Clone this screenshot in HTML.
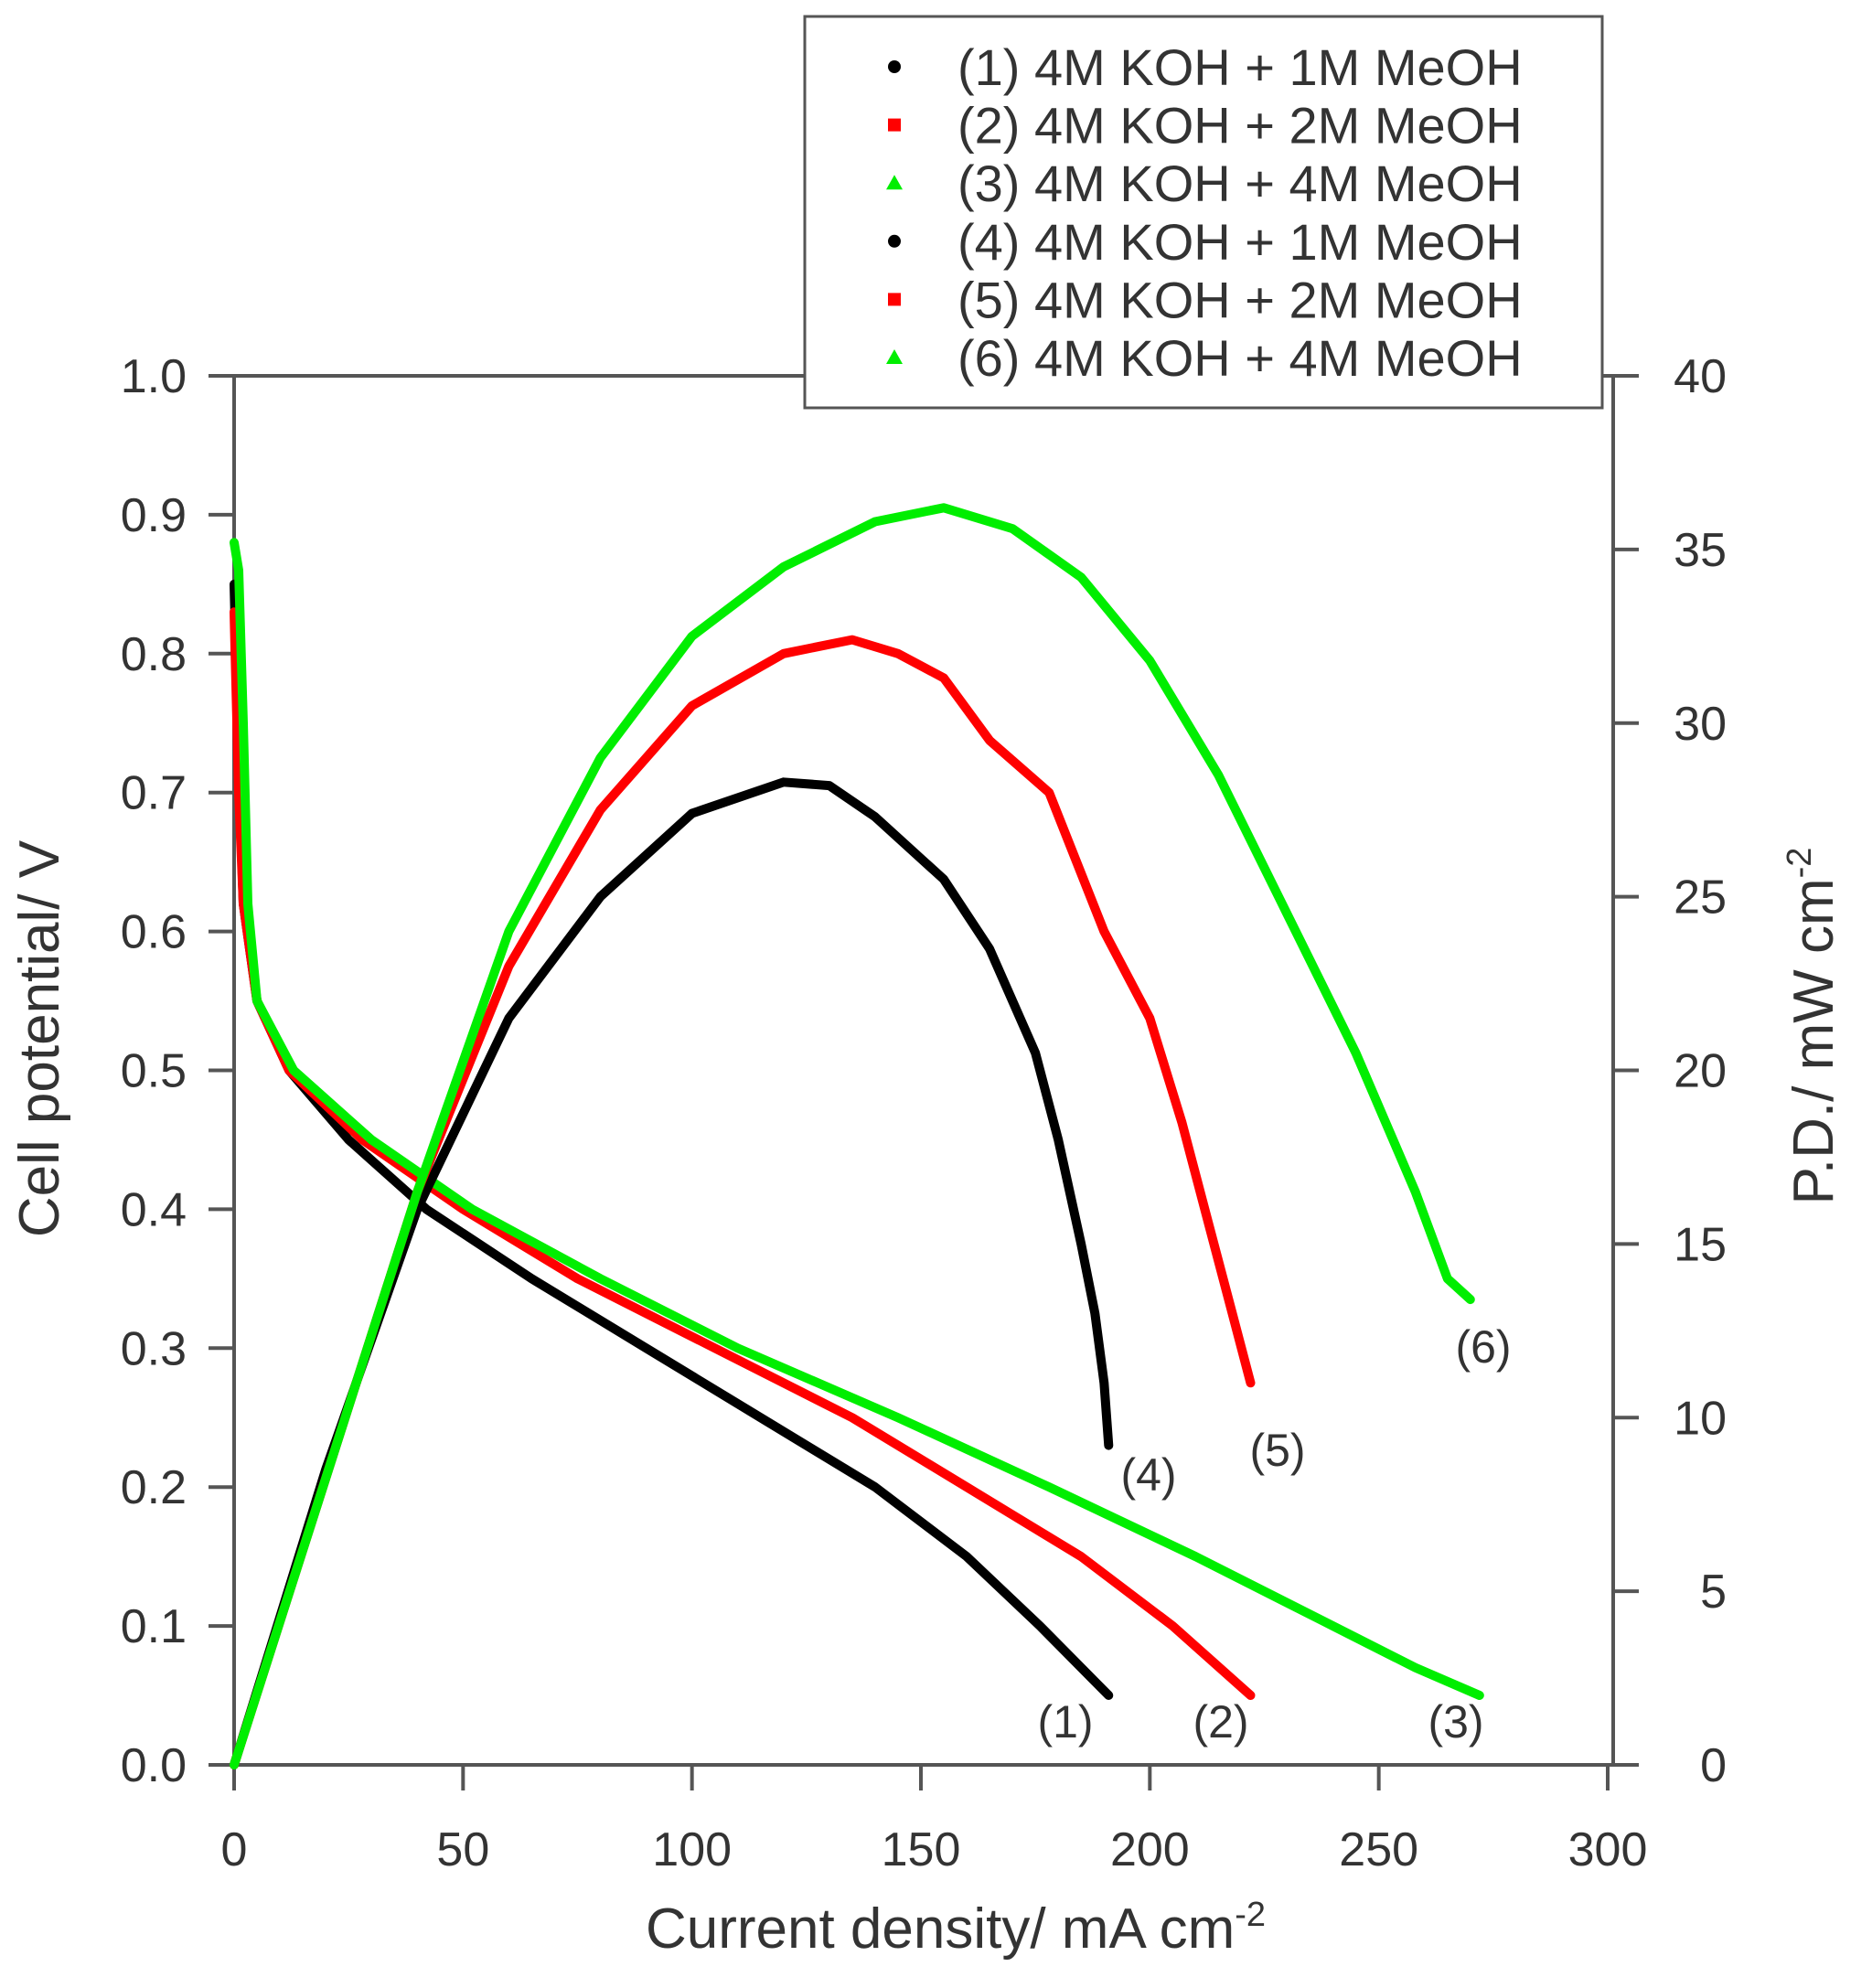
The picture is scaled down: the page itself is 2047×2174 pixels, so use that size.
<!DOCTYPE html>
<html><head><meta charset="utf-8"><style>
html,body{margin:0;padding:0;background:#fff;}
svg{display:block;font-family:"Liberation Sans",sans-serif;}
</style></head><body>
<svg id="chart" width="2047" height="2174" viewBox="0 0 2047 2174">
<g id="axes"></g>
<g id="series"></g>
<g id="legend"></g>
</svg>
<script>
const xTicks=[0,50,100,150,200,250,300];
const yTicks=[0.0,0.1,0.2,0.3,0.4,0.5,0.6,0.7,0.8,0.9,1.0];
const pTicks=[0,5,10,15,20,25,30,35,40];
const vJ1=[0,1,2,5,12,25,42,65,90,115,140,160,176,188,191];
const vV1=[0.85,0.72,0.62,0.55,0.5,0.45,0.4,0.35,0.3,0.25,0.2,0.15,0.1,0.06,0.05];
const vJ2=[0,1,2,5,12,28,50,75,105,135,160,185,205,222];
const vV2=[0.83,0.7,0.62,0.55,0.5,0.45,0.4,0.35,0.3,0.25,0.2,0.15,0.1,0.05];
const vJ3=[0,1,2,3,5,13,30,52,80,110,145,178,210,240,258,272];
const vV3=[0.88,0.86,0.75,0.62,0.55,0.5,0.45,0.4,0.35,0.3,0.25,0.2,0.15,0.1,0.07,0.05];
const pJ4=[0,20,40,60,80,100,120,130,140,155,165,175,180,185,188,190,191];
const pP4=[0,8.5,16,21.5,25,27.4,28.3,28.2,27.3,25.5,23.5,20.5,18,15,13,11,9.2];
const pJ5=[0,40,60,80,100,120,135,145,155,165,178,190,200,207,213,218,222];
const pP5=[0,16.5,23,27.5,30.5,32,32.4,32,31.3,29.5,28,24,21.5,18.5,15.5,13,11];
const pJ6=[0,40,60,80,100,120,140,155,170,185,200,215,230,245,258,265,270];
const pP6=[0,16.5,24,29,32.5,34.5,35.8,36.2,35.6,34.2,31.8,28.5,24.5,20.5,16.5,14,13.4];
const legendLabels=["(1) 4M KOH + 1M MeOH","(2) 4M KOH + 2M MeOH","(3) 4M KOH + 4M MeOH","(4) 4M KOH + 1M MeOH","(5) 4M KOH + 2M MeOH","(6) 4M KOH + 4M MeOH"];
const NS="http://www.w3.org/2000/svg";
const X0=256,X1=1758,Y0=1930,Y1=411;
const sx=j=>X0+j/300*(X1-X0);
const sy=v=>Y0-v*(Y0-Y1);
const sp=p=>Y0-p/40*(Y0-Y1);
function mk(tag,attrs,parent,text){const e=document.createElementNS(NS,tag);for(const k in attrs)e.setAttribute(k,attrs[k]);if(text!==undefined)e.textContent=text;parent.appendChild(e);return e;}
const axes=document.getElementById('axes');
const ac="#555";
let e;
e=mk('line',{x1:X0,y1:Y0,x2:1764,y2:Y0,stroke:ac,'stroke-width':4},axes);


e=mk('line',{x1:X0,y1:Y0,x2:X0,y2:Y1,stroke:ac,'stroke-width':4},axes);


e=mk('line',{x1:1764,y1:Y0,x2:1764,y2:Y1,stroke:ac,'stroke-width':4},axes);


e=mk('line',{x1:X0,y1:Y1,x2:1764,y2:Y1,stroke:ac,'stroke-width':4},axes);


xTicks.forEach(t=>{const x=sx(t);
 e=mk('line',{x1:x,y1:Y0,x2:x,y2:Y0+28,stroke:ac,'stroke-width':4},axes);
 
 
 e=mk('text',{x:x,y:2040,'font-size':52,'text-anchor':'middle',fill:'#333'},axes,String(t));
 
 });
yTicks.forEach(t=>{const y=sy(t);
 e=mk('line',{x1:X0-28,y1:y,x2:X0,y2:y,stroke:ac,'stroke-width':4},axes);
 
 
 e=mk('text',{x:204,y:y+18,'font-size':52,'text-anchor':'end',fill:'#333'},axes,t.toFixed(1));
 
 });
pTicks.forEach(t=>{const y=sp(t);
 e=mk('line',{x1:1764,y1:y,x2:1792,y2:y,stroke:ac,'stroke-width':4},axes);
 
 
 e=mk('text',{x:1888,y:y+18,'font-size':52,'text-anchor':'end',fill:'#333'},axes,String(t));
 
 });
e=mk('text',{x:1045,y:2130,'font-size':62,'text-anchor':'middle',fill:'#333'},axes);
e.innerHTML='Current density/ mA cm<tspan dy="-24" font-size="38">-2</tspan>';


e=mk('text',{x:0,y:0,'font-size':62,'text-anchor':'middle',fill:'#333',transform:'translate(64,1136) rotate(-90)'},axes,'Cell potential/ V');


e=mk('text',{x:0,y:0,'font-size':62,'text-anchor':'middle',fill:'#333',transform:'translate(2004,1122) rotate(-90)'},axes);
e.innerHTML='P.D./ mW cm<tspan dy="-24" font-size="38">-2</tspan>';


const ser=document.getElementById('series');
function line(js,vs,fy,col,name){const pts=js.map((j,i)=>sx(j).toFixed(1)+','+fy(vs[i]).toFixed(1)).join(' ');
 const p=mk('polyline',{points:pts,fill:'none',stroke:col,'stroke-width':10,'stroke-linejoin':'round','stroke-linecap':'round'},ser);
 
 }
line(vJ1,vV1,sy,'#000','polarization-curve-1');
line(vJ2,vV2,sy,'#f00','polarization-curve-2');
line(vJ3,vV3,sy,'#0e0','polarization-curve-3');
line(pJ4,pP4,sp,'#000','power-curve-4');
line(pJ5,pP5,sp,'#f00','power-curve-5');
line(pJ6,pP6,sp,'#0e0','power-curve-6');
const labs=[["(1)",1165,1900],["(2)",1335,1900],["(3)",1592,1900],["(4)",1256,1630],["(5)",1397,1603],["(6)",1622,1490]];
labs.forEach(l=>{e=mk('text',{x:l[1],y:l[2],'font-size':50,'text-anchor':'middle',fill:'#333'},ser,l[0]);
 
 });
const lg=document.getElementById('legend');
e=mk('rect',{x:880,y:18,width:872,height:428,fill:'#fff',stroke:'#555','stroke-width':3},lg);


const cols=['#000','#f00','#0e0','#000','#f00','#0e0'];
legendLabels.forEach((t,i)=>{const y=73+i*63.6;const c=cols[i];
 let m;
 if(i%3==0)m=mk('circle',{cx:978,cy:y,r:7,fill:c},lg);
 else if(i%3==1)m=mk('rect',{x:971,y:y-7,width:14,height:14,fill:c},lg);
 else m=mk('polygon',{points:`${978},${y-9} ${987},${y+7} ${969},${y+7}`,fill:c},lg);
 
 
 const tx=mk('text',{x:1047,y:y+20,'font-size':56,fill:'#333'},lg,t);
 
 });
</script>
</body></html>
